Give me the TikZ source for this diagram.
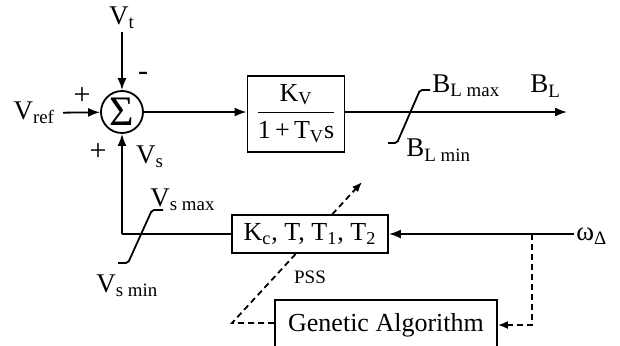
\documentclass[tikz,border=0pt]{standalone}
\usepackage{fontspec}
\setmainfont{Liberation Serif}
\usetikzlibrary{arrows.meta,positioning,backgrounds}
\newcommand{\sbs}[1]{\textsubscript{#1}}
\tikzset{
  box/.style={draw, line width=0.9pt, fill=white, inner sep=2pt, align=center, font=\fontsize{13}{15}\selectfont},
  sumn/.style={circle, draw, line width=0.9pt, fill=white, inner sep=0pt, minimum size=21pt, font=\fontsize{21}{21}\selectfont},
  lbl/.style={inner sep=1pt, font=\fontsize{13.5}{15}\selectfont},
  sgn/.style={inner sep=0pt, font=\fontsize{15}{15}\selectfont},
  small/.style={inner sep=1pt, font=\fontsize{9.5}{11}\selectfont},
  wire/.style={line width=0.9pt},
  pre/.style={wire, -{Latex[length=6pt,width=4.5pt]}},
  dpre/.style={wire, dash pattern=on 3pt off 2pt, -{Latex[length=5pt,width=4pt]}},
  lim/.style={wire, rounded corners=1pt},
}
\begin{document}
\begin{tikzpicture}[x=0.5pt,y=-0.5pt]
\useasboundingbox (0,0) rectangle (620,345);
\clip (0,0) rectangle (620,345);
% summing junction and its inputs
\node[sumn] (sum) at (122,112) {Σ};
\node[lbl] (vt) at (122,18) {V\sbs{t}};
\node[lbl, anchor=east, outer sep=3pt] (vref) at (63,113) {V\sbs{ref}};
\node[sgn] (mn) at (143,76) {-};
\node[sgn] (pl1) at (82,96) {+};
\node[sgn] (pl2) at (98,152) {+};
\node[lbl] (vs) at (150,157) {V\sbs{s}};
% forward path
\node[box, minimum width=48.5pt, minimum height=35pt] (kv) at (296,114)
  {\begin{tabular}{@{}c@{}}K\sbs{V}\\[1pt]\hline\rule{0pt}{13pt}1\,+\,T\sbs{V}s\end{tabular}};
\coordinate (bl) at (567,112);
\node[lbl, anchor=west] (blmax) at (430,86) {B\sbs{L max}};
\node[lbl, anchor=west] (blout) at (528,86) {B\sbs{L}};
\node[lbl, anchor=west] (blmin) at (404,150) {B\sbs{L min}};
% stabiliser and tuner
\node[box, minimum width=78pt, minimum height=19pt] (pss) at (310,234)
  {K\sbs{c}, T, T\sbs{1}, T\sbs{2}};
\node[small] (psslbl) at (310,277) {PSS};
\node[lbl, anchor=west] (omega) at (574,236) {ω\sbs{Δ}};
\coordinate (tap) at (532,234);
\coordinate (corner) at (122,234);
\node[box, minimum width=111pt, minimum height=25pt] (ga) at (386,325) {Genetic Algorithm};
\coordinate (gabend) at (232,323);
\coordinate (adjtip) at (362,182);
\node[lbl, anchor=west] (vsmax) at (148,200) {V\sbs{s max}};
\node[lbl, anchor=west] (vsmin) at (94,286) {V\sbs{s min}};

\draw[pre] (vt) -- (sum);
\draw[pre] (vref) -- (sum);
\draw[pre] (sum) -- (sum -| kv.west);
\draw[pre] (kv.east |- bl) -- (bl);
\draw[lim] (388,143) -- (397,143) -- (420,90) -- (430,90);
\draw[pre] (omega.west |- tap) -- (pss.east |- tap);
\draw[wire] (pss.west |- corner) -- (corner);
\draw[pre] (corner) -- (sum);
\draw[lim] (118,263) -- (128,263) -- (152,210) -- (163,210);
\draw[dpre] (tap) -- (tap |- ga.east) -- (ga.east);
\begin{scope}[on background layer]
\draw[dpre] (ga.west |- gabend) -- (gabend) -- (adjtip);
\end{scope}
\end{tikzpicture}
\end{document}
